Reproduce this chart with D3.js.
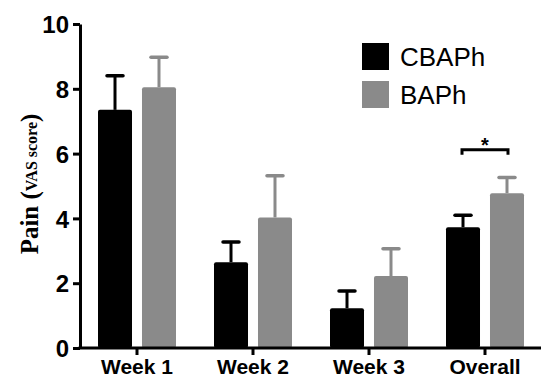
<!DOCTYPE html>
<html>
<head>
<meta charset="utf-8">
<script src="https://cdn.jsdelivr.net/npm/d3@7"></script>
<style>
    body { margin: 0; background: #fff; }
    .axis text { font-family: Arial, "Liberation Sans", sans-serif; font-weight: bold; fill: #000; }
</style>
</head>
<body>
<svg id="chart" width="541" height="380"></svg>
<script>
// data
const categories = ["Week 1", "Week 2", "Week 3", "Overall"];
const series = ["CBAPh", "BAPh"];
const cbaph_mean = [7.35, 2.65, 1.23, 3.73];
const cbaph_err = [8.4, 3.27, 1.76, 4.1];
const baph_mean = [8.05, 4.03, 2.22, 4.78];
const baph_err = [8.97, 5.32, 3.06, 5.26];
const y_ticks = [0, 2, 4, 6, 8, 10];

const colors = { CBAPh: "#000000", BAPh: "#8a8a8a" };

const data = categories.map((c, i) => ({
    cat: c,
    values: [
        { s: "CBAPh", mean: cbaph_mean[i], top: cbaph_err[i] },
        { s: "BAPh", mean: baph_mean[i], top: baph_err[i] }
    ]
}));

const svg = d3.select("#chart");

const xScale = d3.scaleBand().domain(categories).range([79, 543]);
const xInner = d3.scaleBand().domain(series)
    .range([0, xScale.bandwidth()])
    .paddingInner(0.227).paddingOuter(0.432);
const yScale = d3.scaleLinear().domain([0, 10]).range([348, 24]);

// bars
const groups = svg.selectAll(".grp")
    .data(data)
    .enter()
    .append("g")
    .attr("transform", d => "translate(" + xScale(d.cat) + ",0)");

groups.selectAll("rect")
    .data(d => d.values)
    .enter()
    .append("rect")
    .attr("x", d => xInner(d.s))
    .attr("y", d => yScale(d.mean))
    .attr("width", xInner.bandwidth())
    .attr("height", d => yScale(0) - yScale(d.mean))
    .attr("rx", 2)
    .attr("fill", d => colors[d.s]);

// error bars
groups.selectAll(".err")
    .data(d => d.values)
    .enter()
    .append("line")
    .attr("x1", d => xInner(d.s) + xInner.bandwidth() / 2)
    .attr("x2", d => xInner(d.s) + xInner.bandwidth() / 2)
    .attr("y1", d => yScale(d.mean))
    .attr("y2", d => yScale(d.top))
    .attr("stroke", d => colors[d.s])
    .attr("stroke-width", 3);

groups.selectAll(".cap")
    .data(d => d.values)
    .enter()
    .append("line")
    .attr("x1", d => xInner(d.s) + xInner.bandwidth() / 2 - 8)
    .attr("x2", d => xInner(d.s) + xInner.bandwidth() / 2 + 8)
    .attr("y1", d => yScale(d.top))
    .attr("y2", d => yScale(d.top))
    .attr("stroke", d => colors[d.s])
    .attr("stroke-width", 3.5)
    .attr("stroke-linecap", "round");

// axes
const yAxis = svg.append("g")
    .attr("class", "axis")
    .attr("transform", "translate(80,0)")
    .call(d3.axisLeft(yScale).tickValues(y_ticks).tickSize(7).tickSizeOuter(0));
yAxis.selectAll("path, line").attr("stroke", "#000").attr("stroke-width", 3);
yAxis.selectAll("text").attr("font-size", 24).attr("x", -11).attr("dy", "0.36em");

const xAxis = svg.append("g")
    .attr("class", "axis")
    .attr("transform", "translate(0,348)")
    .call(d3.axisBottom(xScale).tickSize(7).tickSizeOuter(0));
xAxis.select(".domain").attr("d", "M78.5,0H541");
xAxis.selectAll("path, line").attr("stroke", "#000").attr("stroke-width", 3);
xAxis.selectAll("text").attr("font-size", 21).attr("y", 11);

// y title
const title = svg.append("text")
    .attr("transform", "translate(38,184) rotate(-90)")
    .attr("text-anchor", "middle")
    .attr("font-family", "'Liberation Serif', 'Times New Roman', serif")
    .attr("font-weight", "bold")
    .attr("font-size", 25);
title.append("tspan").text("Pain (");
title.append("tspan").attr("font-size", 16).attr("dy", -1).text("VAS score");
title.append("tspan").attr("dy", 1).text(")");

// legend
const legend = svg.selectAll(".legend")
    .data(series)
    .enter()
    .append("g")
    .attr("transform", (d, i) => "translate(362," + (43 + i * 38) + ")");
legend.append("rect")
    .attr("width", 27)
    .attr("height", 27)
    .attr("fill", d => colors[d]);
legend.append("text")
    .attr("x", 38)
    .attr("y", 23)
    .attr("font-family", "Arial, 'Liberation Sans', sans-serif")
    .attr("font-size", 26)
    .text(d => d);

// significance bracket on Overall
const bx1 = xScale("Overall") + xInner("CBAPh") + xInner.bandwidth() / 2;
const bx2 = xScale("Overall") + xInner("BAPh") + xInner.bandwidth() / 2;
const by = yScale(6.12);
svg.append("path")
    .attr("d", "M" + (bx1 - 1) + "," + (by + 5) + "V" + by + "H" + (bx2 + 1) + "V" + (by + 5))
    .attr("fill", "none")
    .attr("stroke", "#000")
    .attr("stroke-width", 3);
svg.append("text")
    .attr("x", (bx1 + bx2) / 2)
    .attr("y", by + 2)
    .attr("text-anchor", "middle")
    .attr("font-family", "Arial, 'Liberation Sans', sans-serif")
    .attr("font-weight", "bold")
    .attr("font-size", 20)
    .text("*");
</script>
</body>
</html>
